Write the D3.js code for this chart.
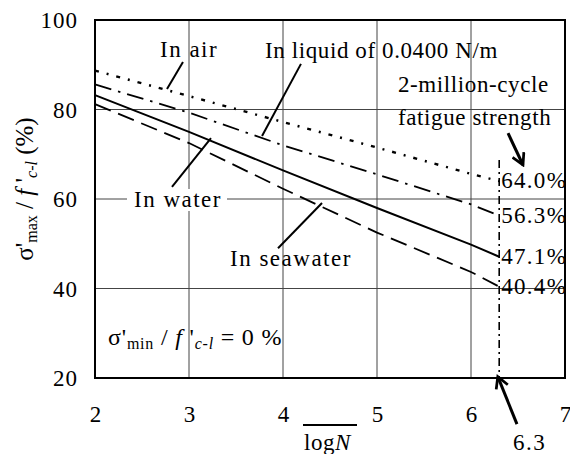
<!DOCTYPE html>
<html>
<head>
<meta charset="utf-8">
<script src="https://cdn.jsdelivr.net/npm/d3@7"></script>
</head>
<body style="margin:0">
<svg id="chart" width="570" height="454"></svg>
<script>
// S-N data: max stress ratio (%) against log of cycles
const logN = [2, 3, 4, 5, 6, 6.3];
const inAir      = [88.7, 83.0, 77.2, 71.5, 65.6, 64.0];
const inLiquid   = [85.6, 79.3, 72.0, 65.5, 58.8, 56.3];
const inWater    = [83.2, 75.0, 66.4, 58.0, 49.8, 47.1];
const inSeawater = [81.2, 72.5, 62.3, 52.5, 43.7, 40.4];
const seriesNames = ["In air", "In liquid of 0.0400 N/m", "In water", "In seawater"];
const fatigueLabels = ["64.0%", "56.3%", "47.1%", "40.4%"];
const xTicks = [2, 3, 4, 5, 6, 7];
const yTicks = [20, 40, 60, 80, 100];
const logN2M = 6.3;

const FONT = '"Liberation Serif"';
const svg = d3.select("#chart");
const W = 570, H = 454;
const m = { left: 95, right: 5, top: 20, bottom: 76 };

const x = d3.scaleLinear().domain([2, 7]).range([m.left, W - m.right]);
const y = d3.scaleLinear().domain([20, 100]).range([H - m.bottom, m.top]);

// helper for text in the chart's serif face
function label(parent, px, py, str, size, spacing) {
  const t = parent.append("text")
    .attr("x", px).attr("y", py)
    .attr("font-size", size)
    .style("font-family", FONT)
    .text(str);
  if (spacing) t.attr("letter-spacing", spacing);
  return t;
}

// arrow head
const defs = svg.append("defs");
defs.append("marker")
  .attr("id", "head").attr("viewBox", "0 0 12 12")
  .attr("refX", 10).attr("refY", 6)
  .attr("markerWidth", 5).attr("markerHeight", 5)
  .attr("markerUnits", "strokeWidth")
  .attr("orient", "auto")
  .append("path").attr("d", "M1,1 L10,6 L1,11")
  .attr("fill", "none").attr("stroke", "#000").attr("stroke-width", 2.2);

// grid
const grid = svg.append("g");
grid.selectAll("line.v").data(xTicks.slice(1, -1)).join("line")
  .attr("x1", d => x(d)).attr("x2", d => x(d))
  .attr("y1", y(20)).attr("y2", y(100))
  .attr("stroke", "#444").attr("stroke-width", 1);
grid.selectAll("line.h").data(yTicks.slice(1, -1)).join("line")
  .attr("x1", x(2)).attr("x2", x(7))
  .attr("y1", d => y(d)).attr("y2", d => y(d))
  .attr("stroke", "#444").attr("stroke-width", 1);

// axes (labels only)
const xAxis = d3.axisBottom(x).tickValues(xTicks).tickSize(0).tickPadding(44).tickFormat(d3.format("d"));
const gx = svg.append("g").attr("transform", `translate(0,${y(20)})`).call(xAxis);
gx.select(".domain").remove();
gx.attr("font-family", null).attr("font-size", 23);
gx.selectAll("text").style("font-family", FONT).attr("fill", "#000").attr("dy", 0);

const yAxis = d3.axisLeft(y).tickValues(yTicks).tickSize(0).tickPadding(17).tickFormat(d3.format("d"));
const gy = svg.append("g").attr("transform", `translate(${x(2)},0)`).call(yAxis);
gy.select(".domain").remove();
gy.attr("font-family", null).attr("font-size", 23);
gy.selectAll("text").style("font-family", FONT).attr("fill", "#000")
  .attr("letter-spacing", 1).attr("dy", "0.34em");

// series lines
const series = [
  { vals: inAir,      dash: "4,8,2,8",  w: 2.4 },
  { vals: inLiquid,   dash: "17,7,2.5,7", w: 1.8 },
  { vals: inWater,    dash: null,      w: 2 },
  { vals: inSeawater, dash: "17,8",    w: 1.8 }
];
const line = d3.line().x((d, i) => x(logN[i])).y(d => y(d));
series.forEach(s => {
  svg.append("path").datum(s.vals).attr("d", line)
    .attr("fill", "none").attr("stroke", "#000")
    .attr("stroke-width", s.w)
    .attr("stroke-dasharray", s.dash);
});

// 2-million-cycle marker line
svg.append("line")
  .attr("x1", x(logN2M)).attr("x2", x(logN2M))
  .attr("y1", y(68.7)).attr("y2", y(20))
  .attr("stroke", "#000").attr("stroke-width", 1.6)
  .attr("stroke-dasharray", "8,4,2,4");

// fatigue strength values
const lastVals = series.map(s => s.vals[s.vals.length - 1]);
fatigueLabels.forEach((t, i) => label(svg, x(logN2M) + 2, y(lastVals[i]) + 7, t, 23, 1.3));

// frame
svg.append("rect")
  .attr("x", x(2)).attr("y", y(100))
  .attr("width", x(7) - x(2)).attr("height", y(20) - y(100))
  .attr("fill", "none").attr("stroke", "#000").attr("stroke-width", 2);

// leader lines for series names
const leaders = [
  [[2.766, 84.6], [2.936, 90.6]],
  [[3.777, 74.1], [4.191, 90.2]],
  [[2.819, 62.7], [3.234, 73.6]],
  [[3.947, 49.0], [4.415, 59.1]]
];
leaders.forEach(l => {
  svg.append("line")
    .attr("x1", x(l[0][0])).attr("y1", y(l[0][1]))
    .attr("x2", x(l[1][0])).attr("y2", y(l[1][1]))
    .attr("stroke", "#000").attr("stroke-width", 2);
});

// series name labels
label(svg, 160, 57, seriesNames[0], 23, 1.5);
label(svg, 265, 58, seriesNames[1], 23, 0.6);
// "In water" sits on the 60 gridline with a white backing
svg.append("rect").attr("x", 127).attr("y", 189).attr("width", 100).attr("height", 22).attr("fill", "#fff");
label(svg, 134, 207, seriesNames[2], 23, 1.5);
label(svg, 230, 266, seriesNames[3], 23, 1.5);

// fatigue strength annotation
label(svg, 398, 92, "2-million-cycle", 23, 0.6);
label(svg, 398, 125, "fatigue strength", 23, 0.6);
svg.append("line")
  .attr("x1", x(6.394)).attr("y1", y(74.7))
  .attr("x2", x(6.553)).attr("y2", y(67.6))
  .attr("stroke", "#000").attr("stroke-width", 3)
  .attr("marker-end", "url(#head)");

// 6.3 callout
svg.append("line")
  .attr("x1", x(6.489)).attr("y1", y(9.7))
  .attr("x2", x(6.285)).attr("y2", y(20.3))
  .attr("stroke", "#000").attr("stroke-width", 3)
  .attr("marker-end", "url(#head)");
label(svg, 513, 450, String(logN2M), 23, 1.5);

// x-axis title: log N with overline
svg.append("line").attr("x1", 303).attr("x2", 357).attr("y1", 425).attr("y2", 425)
  .attr("stroke", "#000").attr("stroke-width", 2);
const xt = label(svg, 304, 450, "", 23, 0.5);
xt.append("tspan").text("log");
xt.append("tspan").attr("font-style", "italic").text("N");

// y-axis title
const yt = svg.append("text")
  .attr("transform", `translate(33,189) rotate(-90)`)
  .attr("text-anchor", "middle").attr("font-size", 25)
  .style("font-family", FONT);
yt.append("tspan").text("σ'");
yt.append("tspan").attr("font-size", 16).attr("dy", 4).text("max");
yt.append("tspan").attr("dy", -4).text(" / ");
yt.append("tspan").attr("font-style", "italic").text("f");
yt.append("tspan").text(" '");
yt.append("tspan").attr("font-size", 16).attr("font-style", "italic").attr("dy", 4).text("c-l");
yt.append("tspan").attr("dy", -4).text("  (%)");

// stress ratio note
const note = label(svg, 108, 345, "", 24, 0.8);
note.append("tspan").text("σ'");
note.append("tspan").attr("font-size", 16).attr("dy", 4).text("min");
note.append("tspan").attr("dy", -4).text(" / ");
note.append("tspan").attr("font-style", "italic").text("f");
note.append("tspan").text(" '");
note.append("tspan").attr("font-size", 16).attr("font-style", "italic").attr("dy", 4).text("c-l");
note.append("tspan").attr("dy", -4).text("  =  0 %");
</script>
</body>
</html>
